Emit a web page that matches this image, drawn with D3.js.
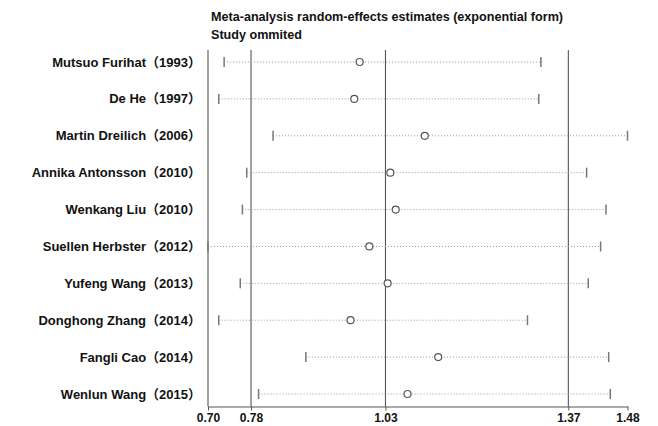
<!DOCTYPE html>
<html>
<head>
<meta charset="utf-8">
<script src="https://cdn.jsdelivr.net/npm/d3@7"></script>
<style>
  body { margin: 0; background: #fff; }
  svg { display: block; font-family: "Liberation Sans", Arial, "Noto Sans CJK SC", sans-serif; }
</style>
</head>
<body>
<div id="chart"></div>
<script>
// studies omitted, one per row
const studies = [
  'Mutsuo Furihat\uFF081993\uFF09',
  'De He\uFF081997\uFF09',
  'Martin Dreilich\uFF082006\uFF09',
  'Annika Antonsson\uFF082010\uFF09',
  'Wenkang Liu\uFF082010\uFF09',
  'Suellen Herbster\uFF082012\uFF09',
  'Yufeng Wang\uFF082013\uFF09',
  'Donghong Zhang\uFF082014\uFF09',
  'Fangli Cao\uFF082014\uFF09',
  'Wenlun Wang\uFF082015\uFF09'
]
const estimates = [0.982, 0.972, 1.103, 1.039, 1.049, 1.000, 1.034, 0.965, 1.128, 1.071]
const lowerCI = [0.730, 0.720, 0.821, 0.772, 0.764, 0.700, 0.760, 0.720, 0.882, 0.794]
const upperCI = [1.319, 1.315, 1.480, 1.404, 1.440, 1.430, 1.407, 1.294, 1.445, 1.448]

// axis ticks: min, overall lower CI, overall estimate, overall upper CI, max
const tickValues = [0.70, 0.78, 1.03, 1.37, 1.48]
const refLines = [0.78, 1.03, 1.37]

const width = 658
const height = 426
const svg = d3.select('#chart').append('svg')
  .attr('width', width)
  .attr('height', height)

const x = d3.scaleLinear().domain([0.70, 1.48]).range([208, 627.5])
const y = d3.scalePoint().domain(studies).range([62, 394])
const plotTop = 50
const axisY = 406.5

//title
const title = svg.append('g')
  .attr('font-size', 12.6)
  .attr('font-weight', 'bold')
  .attr('fill', '#111')
title.append('text').attr('x', 211).attr('y', 21)
  .text('Meta-analysis random-effects estimates (exponential form)')
title.append('text').attr('x', 211).attr('y', 39).text('Study ommited')

//left axis line
svg.append('line')
  .attr('x1', x(0.70)).attr('x2', x(0.70))
  .attr('y1', plotTop).attr('y2', axisY)
  .attr('stroke', '#8a8a8a').attr('stroke-width', 1.6)

//reference lines
svg.selectAll('.ref')
  .data(refLines)
  .enter()
  .append('line')
  .attr('class', 'ref')
  .attr('x1', d => x(d)).attr('x2', d => x(d))
  .attr('y1', plotTop).attr('y2', axisY)
  .attr('stroke', (d, i) => i === 0 ? '#8a8a8a' : '#555')
  .attr('stroke-width', (d, i) => i === 0 ? 1.6 : 1.1)

//bottom axis
const axis = svg.append('g')
  .attr('transform', `translate(0,${axisY})`)
  .call(d3.axisBottom(x).tickValues(tickValues).tickFormat(d3.format('.2f')).tickSize(4).tickSizeOuter(0))
axis.select('.domain').attr('stroke', '#555').attr('stroke-width', 1.1)
axis.selectAll('.tick line').attr('stroke', '#555')
axis.selectAll('.tick text')
  .attr('fill', '#111')
  .attr('font-size', 12)
  .attr('font-weight', 'bold')
  .attr('font-family', '"Liberation Sans", Arial, sans-serif')
  .attr('dy', 0)
  .attr('y', 15.5)

//study labels
svg.append('g')
  .selectAll('text')
  .data(studies)
  .enter()
  .append('text')
  .attr('x', 201)
  .attr('y', d => y(d) + 4.5)
  .attr('text-anchor', 'end')
  .attr('font-size', 13)
  .attr('font-weight', 'bold')
  .attr('fill', '#111')
  .text(d => d)

const rows = studies.map((s, i) => ({
  name: s, est: estimates[i], lo: lowerCI[i], hi: upperCI[i]
}))

const marks = svg.append('g')

//dotted CI lines
marks.selectAll('.ci')
  .data(rows)
  .enter()
  .append('line')
  .attr('class', 'ci')
  .attr('x1', d => x(d.lo)).attr('x2', d => x(d.hi))
  .attr('y1', d => y(d.name)).attr('y2', d => y(d.name))
  .attr('stroke', '#999')
  .attr('stroke-width', 1)
  .attr('stroke-dasharray', '1,2')

//caps
marks.selectAll('.cap')
  .data(rows.flatMap(d => [{name: d.name, v: d.lo}, {name: d.name, v: d.hi}]))
  .enter()
  .append('line')
  .attr('class', 'cap')
  .attr('x1', d => x(d.v)).attr('x2', d => x(d.v))
  .attr('y1', d => y(d.name) - 5).attr('y2', d => y(d.name) + 5)
  .attr('stroke', '#777')
  .attr('stroke-width', 1.5)

//point estimates
marks.selectAll('circle')
  .data(rows)
  .enter()
  .append('circle')
  .attr('cx', d => x(d.est))
  .attr('cy', d => y(d.name))
  .attr('r', 3.5)
  .attr('fill', '#fff')
  .attr('stroke', '#555')
  .attr('stroke-width', 1.2)
</script>
</body>
</html>
